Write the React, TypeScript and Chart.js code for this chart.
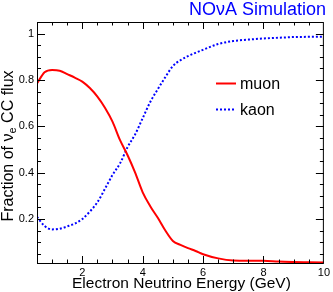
import React, { useEffect, useRef } from "react";
import { Chart, registerables } from "chart.js";

Chart.register(...registerables);

const energies = [0.5, 0.75, 1.0, 1.25, 1.5, 1.75, 2.0, 2.25, 2.5, 2.75, 3.0, 3.25, 3.5, 3.75, 4.0, 4.25, 4.5, 4.75, 5.0, 5.25, 5.5, 5.75, 6.0, 6.5, 7.0, 7.5, 8.0, 8.5, 9.0, 9.5, 10.0];
const muonFrac = [0.785, 0.833, 0.843, 0.840, 0.825, 0.810, 0.793, 0.765, 0.728, 0.680, 0.620, 0.540, 0.475, 0.400, 0.315, 0.255, 0.205, 0.150, 0.105, 0.088, 0.074, 0.062, 0.048, 0.030, 0.021, 0.020, 0.020, 0.016, 0.014, 0.013, 0.012];
const kaonFrac = [0.209, 0.170, 0.155, 0.158, 0.168, 0.180, 0.200, 0.232, 0.272, 0.330, 0.390, 0.440, 0.510, 0.565, 0.635, 0.705, 0.760, 0.812, 0.860, 0.885, 0.903, 0.917, 0.930, 0.955, 0.968, 0.974, 0.979, 0.982, 0.985, 0.986, 0.987];
const seriesNames = ["muon", "kaon"];
const xTickValues = [2, 4, 6, 8, 10];
const yTickValues = [0.2, 0.4, 0.6, 0.8, 1.0];

const FONT = "'Liberation Sans', Arial, Helvetica, sans-serif";

const framePlugin = {
  id: "framePlugin",
  afterDraw(chart: any) {
    const ctx = chart.ctx as CanvasRenderingContext2D;
    const { left, right, top, bottom } = chart.chartArea;
    const xs = chart.scales.x;
    const ys = chart.scales.y;
    ctx.save();
    ctx.strokeStyle = "#000";
    ctx.lineWidth = 1;
    ctx.strokeRect(left + 0.5, top + 0.5, right - left - 1, bottom - top);
    ctx.beginPath();
    // x ticks every 0.5, major every 2
    for (let i = 1; i <= 20; i++) {
      const v = i * 0.5;
      if (v <= xs.min || v >= xs.max) continue;
      const px = Math.round(xs.getPixelForValue(v)) + 0.5;
      const major = Math.abs(v / 2 - Math.round(v / 2)) < 1e-6;
      const len = major ? 7 : 3.5;
      ctx.moveTo(px, bottom);
      ctx.lineTo(px, bottom - len);
      ctx.moveTo(px, top);
      ctx.lineTo(px, top + len);
    }
    for (let i = 1; i <= 21; i++) {
      const v = i * 0.05;
      if (v <= ys.min || v >= ys.max) continue;
      const py = Math.round(ys.getPixelForValue(v)) + 0.5;
      const major = Math.abs(v / 0.2 - Math.round(v / 0.2)) < 1e-6;
      const len = major ? 8 : 4;
      ctx.moveTo(left, py);
      ctx.lineTo(left + len, py);
      ctx.moveTo(right, py);
      ctx.lineTo(right - len, py);
    }
    ctx.stroke();

    // legend
    const items = chart.data.datasets;
    const ly = [83, 109];
    items.forEach((ds: any, i: number) => {
      ctx.save();
      ctx.strokeStyle = ds.borderColor;
      ctx.lineWidth = 2;
      ctx.setLineDash(ds.borderDash || []);
      ctx.beginPath();
      ctx.moveTo(216, ly[i] + 0.5);
      ctx.lineTo(236, ly[i] + 0.5);
      ctx.stroke();
      ctx.restore();
      ctx.fillStyle = "#000";
      ctx.font = `16px ${FONT}`;
      ctx.textBaseline = "alphabetic";
      ctx.textAlign = "left";
      ctx.fillText(ds.label, 240, ly[i] + 5.5);
    });

    // title
    ctx.fillStyle = "#0000ff";
    ctx.font = `18px ${FONT}`;
    ctx.textAlign = "right";
    ctx.fillText("NO\u03bdA Simulation", 326, 15);

    // x title
    ctx.fillStyle = "#000";
    ctx.font = `15.5px ${FONT}`;
    ctx.textAlign = "center";
    ctx.fillText("Electron Neutrino Energy (GeV)", (left + right) / 2 + 1, 288);

    // y title with subscript
    ctx.save();
    ctx.translate(13, 146);
    ctx.rotate(-Math.PI / 2);
    const p1 = "Fraction of \u03bd";
    const p2 = "e";
    const p3 = " CC flux";
    ctx.font = `16px ${FONT}`;
    const w1 = ctx.measureText(p1).width;
    const w3 = ctx.measureText(p3).width;
    ctx.font = `11px ${FONT}`;
    const w2 = ctx.measureText(p2).width;
    const total = w1 + w2 + w3;
    let x0 = -total / 2;
    ctx.textAlign = "left";
    ctx.font = `16px ${FONT}`;
    ctx.fillText(p1, x0, 0);
    ctx.font = `11px ${FONT}`;
    ctx.fillText(p2, x0 + w1, 3);
    ctx.font = `16px ${FONT}`;
    ctx.fillText(p3, x0 + w1 + w2, 0);
    ctx.restore();

    ctx.restore();
  },
};

export default function App() {
  const ref = useRef<HTMLCanvasElement>(null);
  useEffect(() => {
    if (!ref.current) return;
    const chart = new Chart(ref.current, {
      type: "line",
      data: {
        datasets: [
          {
            label: seriesNames[0],
            data: energies.map((e, i) => ({ x: e, y: muonFrac[i] })),
            borderColor: "#ff0000",
            borderWidth: 2,
            pointRadius: 0,
            fill: false,
            cubicInterpolationMode: "monotone",
          },
          {
            label: seriesNames[1],
            data: energies.map((e, i) => ({ x: e, y: kaonFrac[i] })),
            borderColor: "#0000ff",
            borderWidth: 2,
            borderDash: [2, 2],
            pointRadius: 0,
            fill: false,
            cubicInterpolationMode: "monotone",
          },
        ],
      },
      options: {
        responsive: false,
        animation: false,
        layout: { padding: { top: 22, right: 7, left: 0, bottom: 0 } },
        plugins: { legend: { display: false }, tooltip: { enabled: false }, title: { display: false } },
        scales: {
          x: {
            type: "linear",
            min: 0.5,
            max: 10,
            grid: { display: false, drawTicks: false },
            border: { display: false },
            afterBuildTicks: (s: any) => {
              s.ticks = xTickValues.map((v) => ({ value: v }));
            },
            afterFit: (s: any) => {
              s.height = 29;
            },
            ticks: {
              autoSkip: false,
              maxRotation: 0,
              padding: 3,
              color: "#000",
              font: { family: FONT, size: 11 },
              callback: (v: any) => String(v),
            },
          },
          y: {
            type: "linear",
            min: 0.01,
            max: 1.05,
            grid: { display: false, drawTicks: false },
            border: { display: false },
            afterBuildTicks: (s: any) => {
              s.ticks = yTickValues.map((v) => ({ value: v }));
            },
            afterFit: (s: any) => {
              s.width = 37;
            },
            ticks: {
              padding: 3,
              color: "#000",
              font: { family: FONT, size: 11 },
              callback: (v: any) => (Math.abs(v - 1) < 1e-9 ? "1" : Number(v).toFixed(1)),
            },
          },
        },
      },
      plugins: [framePlugin],
    } as any);
    return () => chart.destroy();
  }, []);
  return (
    <div style={{ position: "absolute", left: 0, top: 0, width: 333, height: 292, background: "#fff" }}>
      <canvas ref={ref} width={333} height={292} style={{ display: "block" }} />
    </div>
  );
}
